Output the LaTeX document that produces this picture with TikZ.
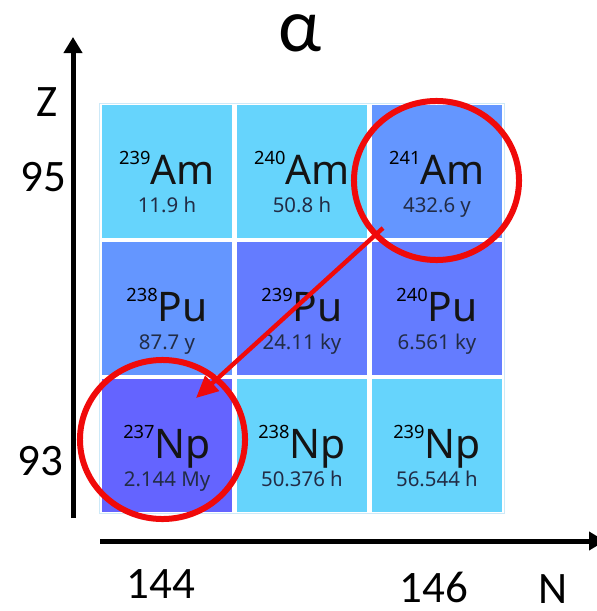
\documentclass[tikz,border=0pt]{standalone}
\usepackage{fontspec}
\setmainfont{Carlito}
\newfontfamily\cellfont{Noto Sans}
\usetikzlibrary{positioning,arrows.meta,shapes.geometric}

\definecolor{cyancell}{RGB}{102,212,252}
\definecolor{bluecell}{RGB}{100,150,255}
\definecolor{deepcell}{RGB}{100,124,255}
\definecolor{violetcell}{RGB}{100,100,255}
\definecolor{decayred}{RGB}{240,10,10}
\definecolor{lifegray}{RGB}{34,44,70}
\definecolor{framecol}{RGB}{205,233,248}

% mass number, symbol, half-life; baseline of the box sits at the cell centre
\newcommand{\nuc}[3]{%
  \makebox[0pt]{\raisebox{-9pt}[0pt][0pt]{\fontsize{13}{13}\selectfont\raisebox{14pt}{#1}\fontsize{29}{29}\selectfont\color{black!92}#2}}%
  \makebox[0pt]{\raisebox{-29.5pt}[0pt][0pt]{\fontsize{14.5}{14.5}\selectfont\color{lifegray}#3}}}

\begin{document}
\begin{tikzpicture}[x=0.025cm,y=-0.025cm,node distance=0.11cm,
    cell/.style={fill=#1,minimum width=3.25cm,minimum height=3.3cm,inner sep=0pt,font=\cellfont},
    ring/.style={draw=decayred,line width=0.15cm,ellipse,minimum width=4.125cm,minimum height=3.975cm,inner sep=0pt},
    axis/.style={line width=0.125cm,-{Triangle[length=0.4cm,width=0.45cm]}},
    axlabel/.style={inner sep=0pt,font=\fontsize{32}{32}\selectfont}]
    \useasboundingbox (0,0) rectangle (597,611);

    % chart of nuclides
    \node[cell=cyancell] (am239) at (167,171.5) {\nuc{239}{Am}{11.9 h}};
    \node[cell=cyancell,right=of am239] (am240) {\nuc{240}{Am}{50.8 h}};
    \node[cell=bluecell,right=of am240] (am241) {\nuc{241}{Am}{432.6 y}};
    \node[cell=bluecell,below=of am239] (pu238) {\nuc{238}{Pu}{87.7 y}};
    \node[cell=deepcell,right=of pu238] (pu239) {\nuc{239}{Pu}{24.11 ky}};
    \node[cell=deepcell,right=of pu239] (pu240) {\nuc{240}{Pu}{6.561 ky}};
    \node[cell=violetcell,below=of pu238] (np237) {\nuc{237}{Np}{2.144 My}};
    \node[cell=cyancell,right=of np237] (np238) {\nuc{238}{Np}{50.376 h}};
    \node[cell=cyancell,right=of np238] (np239) {\nuc{239}{Np}{56.544 h}};
    \draw[framecol,line width=0.6pt] (am239.north west) ++(-2,-2) rectangle ([shift={(2,2)}]np239.south east);

    % axes
    \coordinate (zfoot) at (73,518);
    \coordinate (ztip) at (73,37);
    \coordinate (nfoot) at (100,541);
    \coordinate (ntip) at (605,541);
    \draw[axis] (zfoot) -- (ztip);
    \draw[axis] (nfoot) -- (ntip);
    \node[axlabel] (zlabel) at (47.5,102) {Z};
    \node[axlabel] (z95) at (43,177) {95};
    \node[axlabel] (z93) at (40,461) {93};
    \node[axlabel] (n144) at (161,584) {144};
    \node[axlabel] (n146) at (434,587) {146};
    \node[axlabel] (nlabel) at (553,589) {N};
    \node[inner sep=0pt,font=\fontsize{54}{54}\selectfont] (alpha) at (300,33) {α};

    % alpha decay
    \node[ring] (ringam) at (436.5,180.5) {};
    \node[ring] (ringnp) at (162.5,439.5) {};
    \coordinate (decaystart) at (383,228);
    \coordinate (decayend) at (196,398);
    \draw[draw=decayred,line width=0.11cm,-{Triangle[length=0.55cm,width=0.5cm]}] (decaystart) -- (decayend);
\end{tikzpicture}
\end{document}
